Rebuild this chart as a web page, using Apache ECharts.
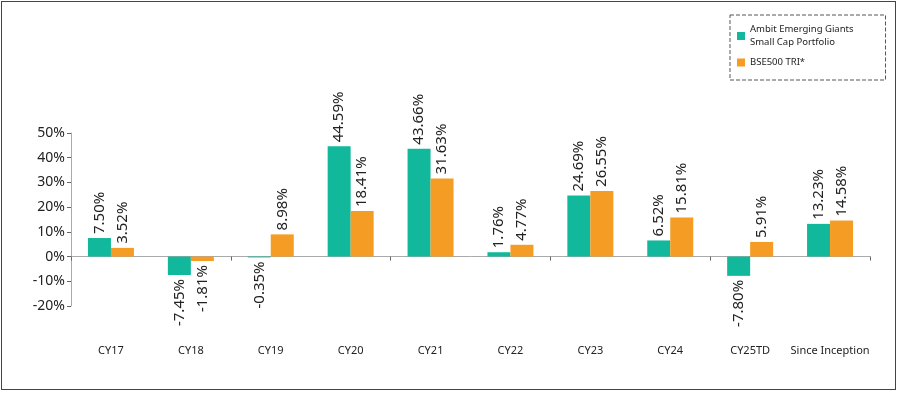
<!DOCTYPE html>
<html><head><meta charset="utf-8">
<script src="https://cdn.jsdelivr.net/npm/echarts@6/dist/echarts.min.js"></script>
<style>html,body{margin:0;padding:0;background:#fff}
#frame{position:absolute;left:1px;top:1px;width:895px;height:389px;border:1px solid #444;box-sizing:border-box}
#c{position:absolute;left:0;top:0;width:900px;height:393px}</style>
</head><body><div id="frame"></div><div id="c"></div>
<script>
const categories = ['CY17','CY18','CY19','CY20','CY21','CY22','CY23','CY24','CY25TD','Since Inception'];
const ambit = [7.50,-7.45,-0.35,44.59,43.66,1.76,24.69,6.52,-7.80,13.23];
const bse = [3.52,-1.81,8.98,18.41,31.63,4.77,26.55,15.81,5.91,14.58];
const seriesNames = ['Ambit Emerging Giants\nSmall Cap Portfolio','BSE500 TRI*'];
const colors = ['#12B89B','#F59C24'];
const yTicks = {min:-20,max:50,interval:10};

function mk(vals){
  return vals.map(v => ({
    value: v,
    label: v >= 0 ? {position:'top', align:'left', verticalAlign:'middle', distance:4}
                  : {position:'bottom', align:'right', verticalAlign:'middle', distance:4}
  }));
}
const font = 'Noto Sans';
const chart = echarts.init(document.getElementById('c'));
chart.setOption({
  animation:false,
  textStyle:{fontFamily:font},
  legend:{
    orient:'vertical', left:730, top:15, itemWidth:8, itemHeight:8, itemGap:7,
    icon:'rect', borderColor:'#555', borderWidth:1, borderType:'dashed',
    padding:[8,32,11,7],
    textStyle:{fontSize:9.5, color:'#222', lineHeight:13, fontFamily:font},
    data:seriesNames
  },
  grid:{left:71,right:30,top:133,bottom:87,containLabel:false,outerBoundsMode:'none'},
  xAxis:[{
    type:'category', data:categories,
    axisLine:{onZero:true,lineStyle:{color:'#aaa'}},
    axisTick:{show:true,length:4,lineStyle:{color:'#666'}},
    axisLabel:{show:false}
  },{
    type:'category', data:categories, position:'bottom',
    axisLine:{show:false,onZero:false}, axisTick:{show:false},
    axisLabel:{margin:39,fontSize:11,color:'#222',interval:0}
  }],
  yAxis:{
    type:'value', min:yTicks.min, max:yTicks.max, interval:yTicks.interval,
    splitLine:{show:false},
    axisLine:{show:true,lineStyle:{color:'#aaa'}},
    axisTick:{show:true,length:4,lineStyle:{color:'#666'}},
    axisLabel:{formatter:'{value}%',fontSize:14,color:'#222',margin:6}
  },
  series:[
    {name:seriesNames[0],type:'bar',data:mk(ambit),barWidth:23,barGap:'0%',
     itemStyle:{color:colors[0]},
     label:{show:true,rotate:90,fontSize:15,color:'#222',formatter:p=>p.value.toFixed(2)+'%'}},
    {name:seriesNames[1],type:'bar',data:mk(bse),barWidth:23,barGap:'0%',
     itemStyle:{color:colors[1]},
     label:{show:true,rotate:90,fontSize:15,color:'#222',formatter:p=>p.value.toFixed(2)+'%'}}
  ]
});
</script></body></html>
